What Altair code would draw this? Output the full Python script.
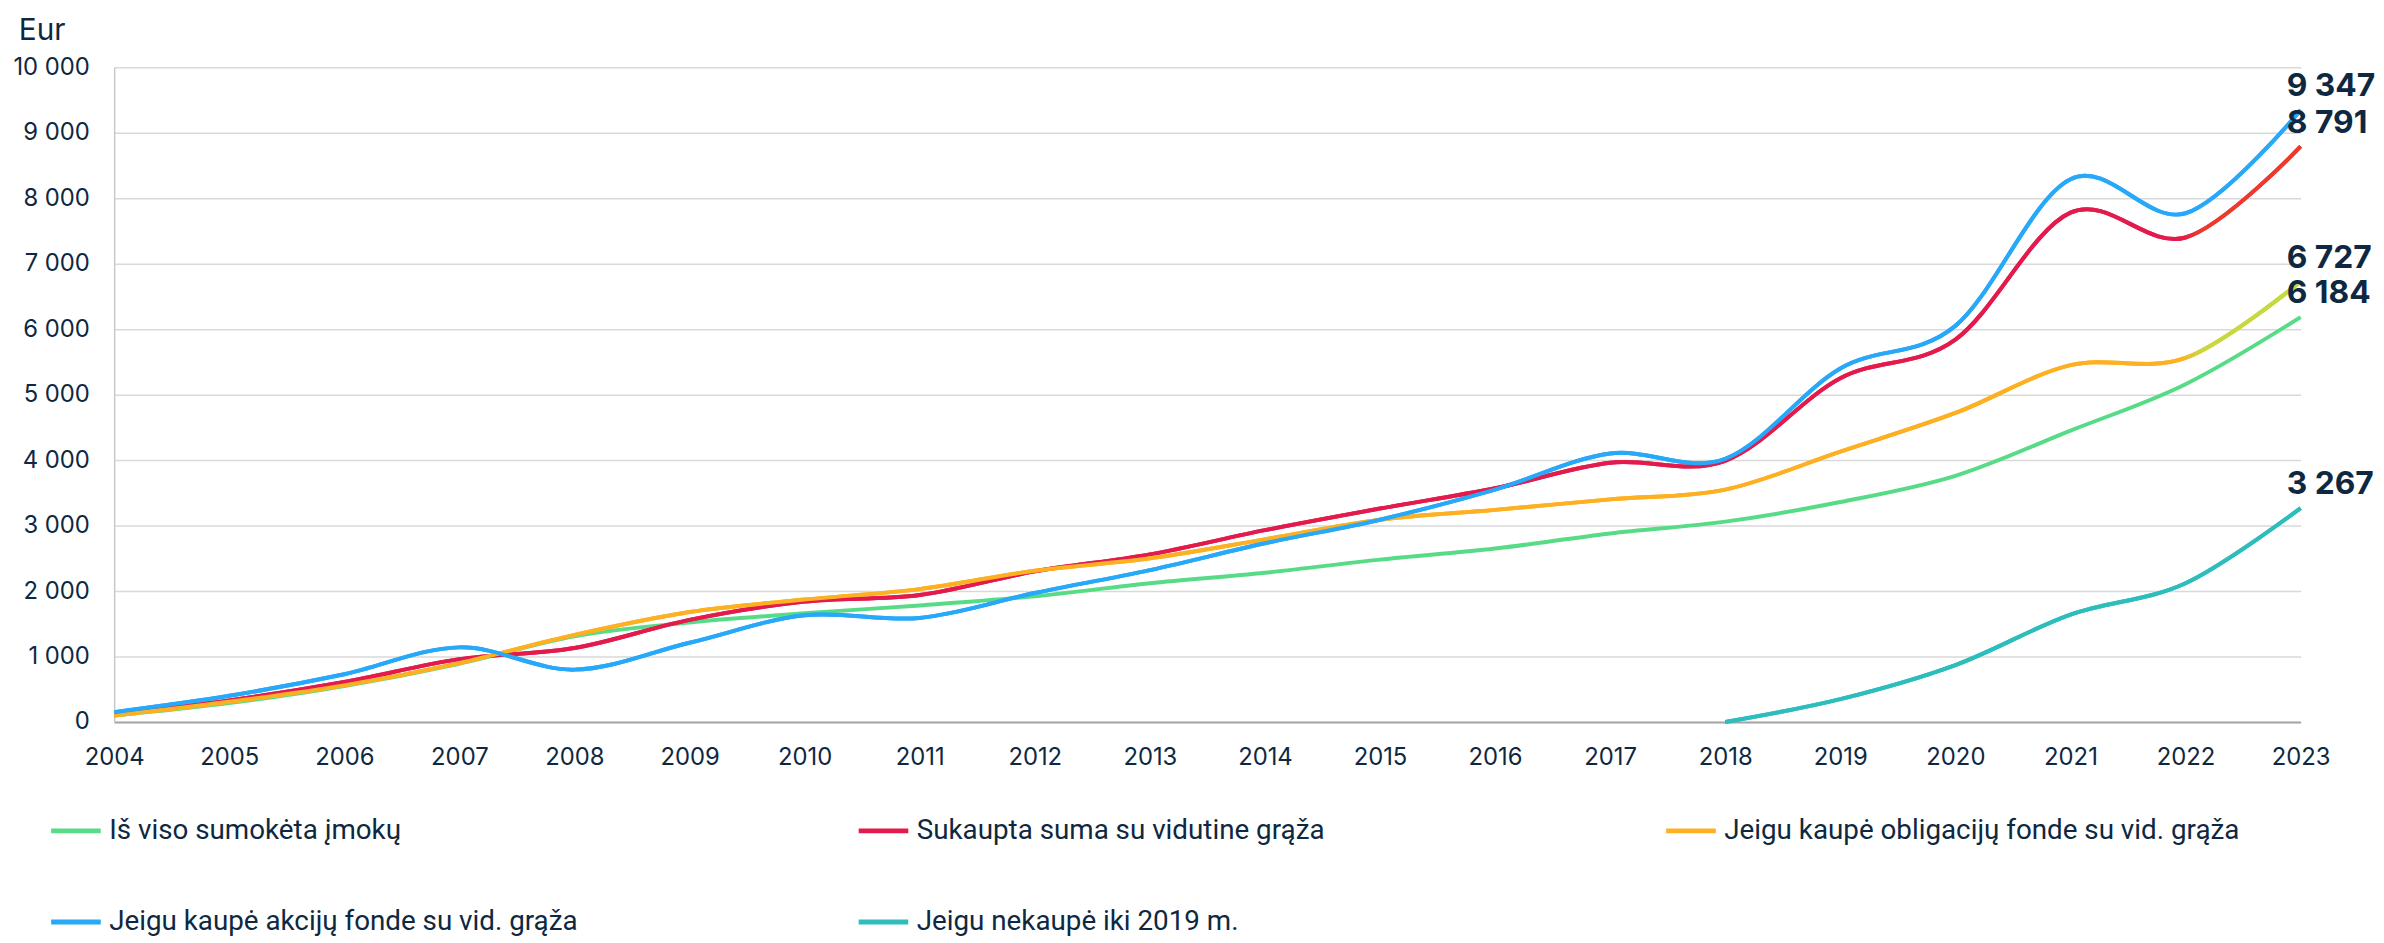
import altair as alt
import pandas as pd

years = list(range(2004, 2024))
series_names = [
    "Iš viso sumokėta įmokų",
    "Sukaupta suma su vidutine grąža",
    "Jeigu kaupė obligacijų fonde su vid. grąža",
    "Jeigu kaupė akcijų fonde su vid. grąža",
    "Jeigu nekaupė iki 2019 m.",
]
colors = ["#57DB87", "#E31B4C", "#FDB022", "#28A8F8", "#2DBDBD"]
red_end_color = "#EE3A2A"
orange_end_color = "#C5DA3F"
text_color = "#0E2841"

paid = [100, 290, 550, 890, 1310, 1520, 1660, 1780, 1920, 2120, 2280, 2480, 2650, 2880, 3060, 3360, 3760, 4450, 5160, 6184]
average = [120, 330, 610, 960, 1130, 1560, 1840, 1940, 2300, 2560, 2930, 3260, 3570, 3960, 3990, 5250, 5840, 7780, 7400, 8791]
bonds = [100, 310, 560, 900, 1330, 1680, 1870, 2030, 2310, 2500, 2790, 3090, 3240, 3400, 3550, 4130, 4720, 5450, 5560, 6727]
stocks = [150, 400, 730, 1140, 800, 1210, 1630, 1590, 1970, 2320, 2730, 3090, 3550, 4100, 4020, 5400, 6050, 8290, 7770, 9347]
late_years = [2018, 2019, 2020, 2021, 2022, 2023]
late = [0, 350, 870, 1640, 2120, 3267]

rows = []
for name, vals, yrs in [
    (series_names[0], paid, years),
    (series_names[1], average, years),
    (series_names[2], bonds, years),
    (series_names[3], stocks, years),
    (series_names[4], late, late_years),
]:
    for y, v in zip(yrs, vals):
        rows.append({"year": y, "value": v, "series": name})
df = pd.DataFrame(rows)

ends = df[df["year"] == 2023].copy()
ends["label"] = ends["value"].map(lambda v: f"{v:,}".replace(",", " "))

x_enc = alt.X(
    "year:Q",
    scale=alt.Scale(domain=[2004, 2023], nice=False, zero=False),
    axis=alt.Axis(
        values=years, format="d", title=None, ticks=False, grid=False,
        labelFlush=False, labelOverlap=False, labelPadding=24,
        labelFont="Inter", labelFontSize=24, labelColor=text_color,
        domainColor="#A6A6A6", domainWidth=2,
    ),
)
y_enc = alt.Y(
    "value:Q",
    scale=alt.Scale(domain=[0, 10000], nice=False),
    axis=alt.Axis(
        values=list(range(0, 10001, 1000)), title=None, ticks=False,
        labelExpr="replace(format(datum.value, ','), ',', ' ')",
        labelPadding=25, labelFont="Inter", labelFontSize=24, labelColor=text_color,
        gridColor="#D9D9D9", gridWidth=1.5, domainColor="#C8C8C8", domainWidth=1.5,
    ),
)

SW = 4

main = alt.Chart(df).mark_line(interpolate="cardinal", strokeWidth=SW).encode(
    x=x_enc,
    y=y_enc,
    color=alt.Color(
        "series:N",
        scale=alt.Scale(domain=series_names, range=colors),
        sort=series_names,
        legend=alt.Legend(
            title=None, orient="none", legendX=-66, legendY=742,
            columns=3, direction="horizontal", gridAlign="all",
            columnPadding=225, rowPadding=50,
            symbolType="stroke", symbolSize=2500, symbolStrokeWidth=5,
            labelFont="Roboto", labelFontSize=28, labelColor=text_color,
            labelOffset=6, labelLimit=900,
        ),
    ),
)

def grad(c1, c2):
    return alt.LinearGradient(
        gradient="linear",
        stops=[
            alt.GradientStop(offset=0, color=c1),
            alt.GradientStop(offset=0.945, color=c1),
            alt.GradientStop(offset=0.955, color=c2),
            alt.GradientStop(offset=1, color=c2),
        ],
        x1=0, x2=1, y1=0, y2=0,
    )

red_line = alt.Chart(df[df["series"] == series_names[1]]).mark_line(
    interpolate="cardinal", strokeWidth=SW, stroke=grad(colors[1], red_end_color)
).encode(x="year:Q", y="value:Q")
orange_line = alt.Chart(df[df["series"] == series_names[2]]).mark_line(
    interpolate="cardinal", strokeWidth=SW, stroke=grad(colors[2], orange_end_color)
).encode(x="year:Q", y="value:Q")
blue_line = alt.Chart(df[df["series"] == series_names[3]]).mark_line(
    interpolate="cardinal", strokeWidth=SW, color=colors[3]
).encode(x="year:Q", y="value:Q")
teal_line = alt.Chart(df[df["series"] == series_names[4]]).mark_line(
    interpolate="cardinal", strokeWidth=SW, color=colors[4]
).encode(x="year:Q", y="value:Q")

labels = alt.Chart(ends).mark_text(
    align="left", baseline="middle", dx=-14, dy=-24,
    font="Inter", fontSize=32, fontWeight="bold", color=text_color,
).encode(x="year:Q", y="value:Q", text="label:N")

chart = alt.layer(main, red_line, orange_line, blue_line, teal_line, labels).properties(
    width=2204,
    height=660,
    padding={"left": 4, "right": 0, "top": 5, "bottom": 0},
    title=alt.TitleParams(
        "Eur", anchor="start", frame="bounds", font="Inter", fontSize=30,
        fontWeight="normal", color=text_color, offset=9, dx=6,
    ),
).configure_view(stroke=None)

chart.save("out.html", embed_options={"renderer": "svg", "actions": False})
